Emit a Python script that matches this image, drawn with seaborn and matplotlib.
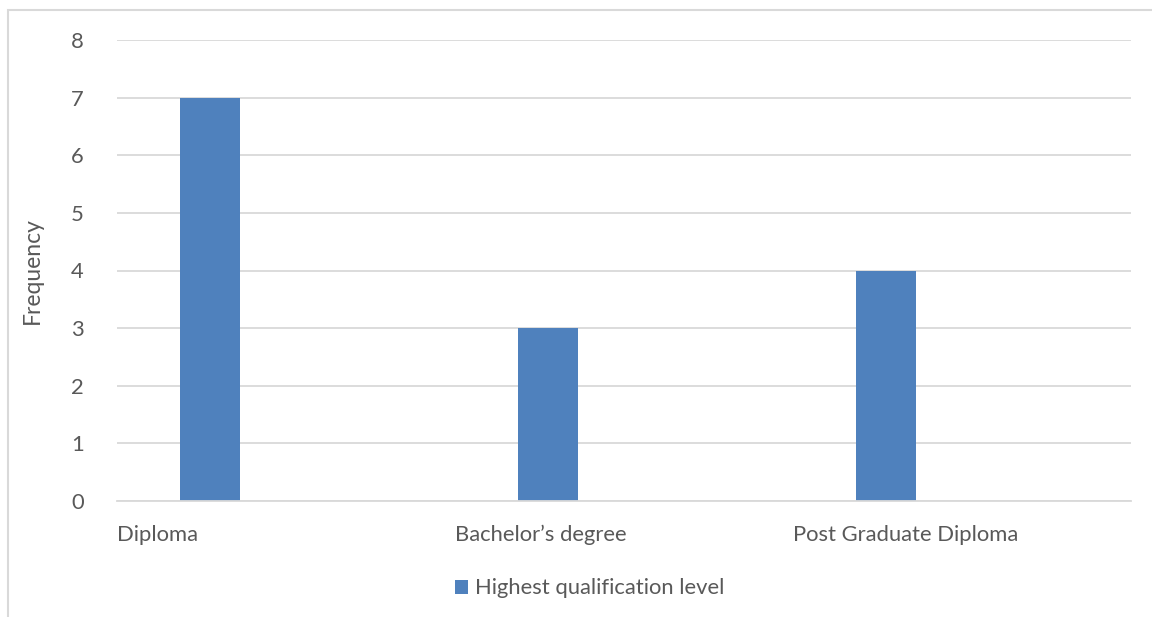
import numpy as np
import pandas as pd
import seaborn as sns
import matplotlib
matplotlib.use("Agg")
import matplotlib.pyplot as plt
from matplotlib.patches import Rectangle

categories = ["Diploma", "Bachelor\u2019s degree", "Post Graduate Diploma"]
frequency = [7, 3, 4]
series_name = "Highest qualification level"
y_ticks = [0, 1, 2, 3, 4, 5, 6, 7, 8]

bar_color = "#4F81BD"
text_color = "#595959"
grid_color = "#D9D9D9"
fs = 15.8

sns.set_theme(style="white")
plt.rcParams["font.family"] = ["Lato", "DejaVu Sans"]

df = pd.DataFrame({"category": categories, "frequency": frequency})

W, H = 1152, 617
fig = plt.figure(figsize=(W / 100, H / 100), dpi=100)
fig.patch.set_facecolor("white")

left, right, top, bottom = 117, 1131, 40, 501
ax = fig.add_axes([left / W, 1 - bottom / H, (right - left) / W, (bottom - top) / H])

sns.barplot(data=df, x="category", y="frequency", color=bar_color,
            saturation=1, width=0.175, ax=ax, label=series_name,
            linewidth=0, edgecolor="none")

# each category slot starts a little left of the bar centre
offset = 0.275
ax.set_xlim(-offset, len(categories) - offset)
ax.set_ylim(0, 8)
ax.set_yticks(y_ticks)
ax.yaxis.grid(True, color=grid_color, linewidth=1.3)
ax.set_axisbelow(True)
for s in ["top", "right", "left"]:
    ax.spines[s].set_visible(False)
ax.spines["bottom"].set_color(grid_color)
ax.spines["bottom"].set_linewidth(1.3)

ax.set_xticks(np.arange(len(categories)) - offset)
ax.set_xticklabels(categories, ha="left")
ax.tick_params(axis="x", length=0, pad=17, labelsize=fs, labelcolor=text_color)
ax.tick_params(axis="y", length=0, pad=24, labelsize=fs, labelcolor=text_color)
ax.set_xlabel("")
ax.set_ylabel("Frequency", fontsize=16.5, color=text_color, labelpad=20)

leg = ax.legend(loc="upper center", bbox_to_anchor=(0.466, -0.125), frameon=False,
                fontsize=fs, handlelength=0.62, handleheight=0.62, handletextpad=0.3,
                labelcolor=text_color)

# chart area border (left and top edges)
fig.add_artist(Rectangle((8 / W, -0.05), 1.2, 1 - 10 / H + 0.05, transform=fig.transFigure,
                         fill=False, edgecolor="#D9D9D9", linewidth=1.5))

fig.savefig("out.png", dpi=100)
